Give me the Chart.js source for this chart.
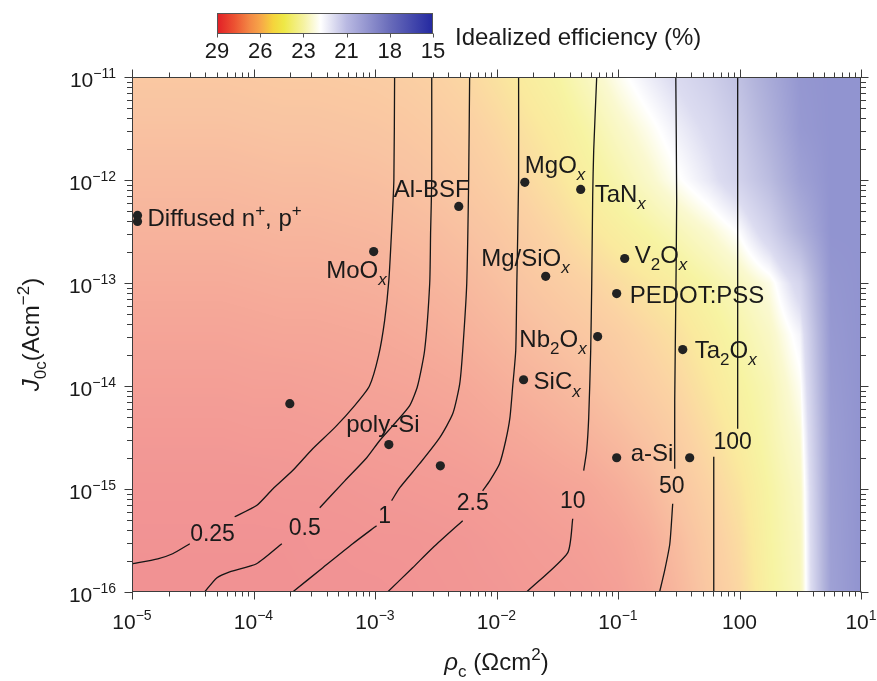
<!DOCTYPE html>
<html>
<head>
<meta charset="utf-8">
<title>Idealized efficiency map</title>
<script src="https://cdn.jsdelivr.net/npm/chart.js@4.4.0/dist/chart.umd.min.js"></script>
<style>
  html, body { margin: 0; padding: 0; background: #fff; }
  #wrap { width: 877px; height: 681px; }
</style>
</head>
<body>
<div id="wrap"><canvas id="chart" width="877" height="681"></canvas></div>
<script>
// ---- data ----
const xTicks = [1e-5, 1e-4, 1e-3, 1e-2, 1e-1, 1, 10];
const xTickLabels = ['10{^−5}', '10{^−4}', '10{^−3}', '10{^−2}', '10{^−1}', '100', '10{^1}'];
const yTicks = [1e-16, 1e-15, 1e-14, 1e-13, 1e-12, 1e-11];
const yTickLabels = ['10{^−16}', '10{^−15}', '10{^−14}', '10{^−13}', '10{^−12}', '10{^−11}'];
const cbarTicks = [29, 26, 23, 21, 18, 15];

// contact resistivity (Ohm cm2) and recombination J0c (A cm-2) of each contact
const rhoC = [1.11e-5, 1.11e-5, 9.75e-4, 4.89e-3, 1.71e-2, 4.93e-2, 2.54e-2, 0.1135, 9.75e-2, 6.8e-2, 1.67e-2, 0.341, 9.75e-2, 0.389, 1.99e-4, 1.30e-3, 3.45e-3];
const j0c = [4.53e-13, 3.96e-13, 2.02e-13, 5.54e-13, 9.5e-13, 8.1e-13, 1.16e-13, 1.73e-13, 7.9e-14, 3.02e-14, 1.15e-14, 2.26e-14, 2.01e-15, 2.01e-15, 6.74e-15, 2.70e-15, 1.68e-15];
const materials = ['Diffused n{^+}, p{^+}', '', 'MoO{_/x}', 'Al-BSF', 'MgO{_/x}', 'TaN{_/x}', 'Mg/SiO{_/x}', 'V{_2}O{_/x}', 'PEDOT:PSS', 'Nb{_2}O{_/x}', 'SiC{_/x}', 'Ta{_2}O{_/x}', 'a-Si', '', '', 'poly-Si', ''];

// contour lines [rho, J0c]; null = break for the inline label
const contourLevels = ['0.25', '0.5', '1', '2.5', '10', '50', '100'];
const contour025 = [[1.45e-3, 1e-11], [1.43e-3, 1e-12], [1.37e-3, 3.24e-13], [1.30e-3, 1.06e-13], [1.20e-3, 4.32e-14], [1.07e-3, 1.97e-14], [9.0e-4, 1.0e-14], [6.8e-4, 6.45e-15], [4.66e-4, 3.94e-15], [3.07e-4, 2.46e-15], [2.10e-4, 1.51e-15], [1.44e-4, 1.0e-15], [1.06e-4, 6.9e-16], [7.0e-5, 5.38e-16], null, [2.99e-5, 2.94e-16], [2.16e-5, 2.35e-16], [1.63e-5, 2.10e-16], [1e-5, 1.88e-16]];
const contour05 = [[2.93e-3, 1e-11], [2.93e-3, 1e-12], [2.87e-3, 3.24e-13], [2.82e-3, 9.9e-14], [2.56e-3, 2.21e-14], [2.24e-3, 1.0e-14], [1.93e-3, 6.45e-15], [1.40e-3, 4.12e-15], [1.09e-3, 2.94e-15], [8.55e-4, 2.01e-15], [5.64e-4, 1.2e-15], [3.51e-4, 6.58e-16], null, [1.71e-4, 2.94e-16], [1.06e-4, 1.88e-16], [6.37e-5, 1.57e-16], [4.98e-5, 1.37e-16], [3.96e-5, 1e-16]];
const contour1 = [[6.01e-3, 1e-11], [5.90e-3, 1e-12], [5.69e-3, 9.9e-14], [5.27e-3, 2.21e-14], [4.98e-3, 1.05e-14], [4.37e-3, 5.4e-15], [3.41e-3, 3.15e-15], [2.33e-3, 1.76e-15], [1.60e-3, 1.03e-15], [1.37e-3, 7.7e-16], null, [1.03e-3, 4.4e-16], [6.55e-4, 2.94e-16], [3.72e-4, 1.72e-16], [2.10e-4, 1e-16]];
const contour25 = [[1.52e-2, 1e-11], [1.52e-2, 1e-12], [1.47e-2, 9.9e-14], [1.44e-2, 2.21e-14], [1.36e-2, 1.0e-14], [1.29e-2, 4.93e-15], [1.19e-2, 2.94e-15], [1.06e-2, 1.76e-15], [8.79e-3, 1.2e-15], [7.69e-3, 9.6e-16], null, [5.27e-3, 4.92e-16], [2.99e-3, 2.69e-16], [2.04e-3, 1.72e-16], [1.27e-3, 1e-16]];
const contour10 = [[6.68e-2, 1e-11], [6.31e-2, 1.94e-12], [6.19e-2, 6.93e-13], [6.08e-2, 9.9e-14], [5.96e-2, 2.21e-14], [5.74e-2, 4.93e-15], [5.52e-2, 2.36e-15], [5.22e-2, 1.51e-15], null, [4.24e-2, 5.14e-16], [3.85e-2, 2.40e-16], [1.77e-2, 1e-16]];
const contour50 = [[0.299, 1e-11], [0.304, 6.33e-13], [0.299, 6.76e-14], [0.293, 7.21e-15], [0.293, 1.57e-15], null, [0.282, 7.2e-16], [0.267, 2.94e-16], [0.242, 1.61e-16], [0.220, 1e-16]];
const contour100 = [[0.966, 1e-11], [0.966, 3.85e-15], null, [0.614, 2.06e-15], [0.614, 1e-16]];
const contourLabelRho = [4.6e-5, 2.64e-4, 1.2e-3, 6.37e-3, 4.24e-2, 0.277, 0.879];
const contourLabelJ = [3.68e-16, 4.21e-16, 5.5e-16, 7.36e-16, 7.7e-16, 1.08e-15, 2.88e-15];

// idealized efficiency (%) read on a grid: columns log10(rho), rows log10(J0c)
const gridLogRho = [-5, -4.75, -4.5, -4.25, -4, -3.75, -3.5, -3.25, -3, -2.75, -2.5, -2.25, -2, -1.75, -1.5, -1.25, -1, -0.75, -0.5, -0.25, 0, 0.25, 0.5, 0.75, 1];
const gridLogJ = [-11, -11.5, -12, -12.5, -13, -13.5, -14, -14.5, -15, -15.5, -16];
const efficiency = [
  [26.5, 26.5, 26.5, 26.5, 26.45, 26.4, 26.4, 26.35, 26.3, 26.2, 26.05, 25.8, 25.4, 24.9, 24.4, 23.5, 22.5, 21.6, 20.8, 20.0, 18.8, 17.0, 15.3, 15, 15],
  [26.8, 26.8, 26.8, 26.8, 26.75, 26.7, 26.7, 26.65, 26.6, 26.5, 26.35, 26.15, 25.8, 25.35, 24.9, 24.2, 23.3, 22.5, 21.6, 20.8, 19.5, 17.6, 15.5, 15, 15],
  [27.1, 27.1, 27.1, 27.1, 27.05, 27.0, 27.0, 26.95, 26.9, 26.8, 26.65, 26.45, 26.15, 25.75, 25.3, 24.7, 24.0, 23.2, 22.3, 21.4, 20.2, 18.5, 16.2, 15, 15],
  [27.4, 27.4, 27.4, 27.4, 27.35, 27.3, 27.3, 27.25, 27.2, 27.1, 27.0, 26.8, 26.55, 26.2, 25.8, 25.3, 24.8, 24.3, 23.7, 23.0, 22.1, 20.2, 17.6, 15, 15],
  [27.7, 27.7, 27.7, 27.7, 27.65, 27.6, 27.6, 27.55, 27.5, 27.4, 27.3, 27.15, 26.9, 26.6, 26.3, 26.0, 25.6, 25.2, 24.8, 24.2, 23.5, 22.6, 20.4, 15.3, 15],
  [28.0, 28.0, 28.0, 28.0, 27.95, 27.9, 27.9, 27.85, 27.8, 27.7, 27.6, 27.45, 27.25, 27.0, 26.75, 26.5, 26.2, 25.8, 25.4, 24.8, 24.1, 23.3, 21.8, 15.5, 15],
  [28.25, 28.25, 28.25, 28.25, 28.2, 28.2, 28.15, 28.1, 28.05, 28.0, 27.9, 27.8, 27.6, 27.4, 27.2, 26.95, 26.6, 26.2, 25.8, 25.2, 24.5, 23.8, 22.4, 15.7, 15],
  [28.5, 28.5, 28.5, 28.5, 28.45, 28.45, 28.4, 28.35, 28.3, 28.25, 28.2, 28.1, 27.95, 27.8, 27.6, 27.4, 27.1, 26.7, 26.2, 25.6, 24.9, 24.0, 22.9, 15.9, 15],
  [28.7, 28.7, 28.7, 28.7, 28.7, 28.65, 28.65, 28.6, 28.55, 28.5, 28.45, 28.4, 28.3, 28.2, 28.05, 27.9, 27.6, 27.2, 26.6, 26.0, 25.3, 24.3, 23.3, 16.0, 15],
  [28.8, 28.8, 28.8, 28.8, 28.8, 28.8, 28.75, 28.75, 28.7, 28.7, 28.65, 28.6, 28.5, 28.4, 28.3, 28.2, 28.0, 27.6, 27.0, 26.3, 25.6, 24.4, 23.5, 16.1, 15],
  [28.85, 28.85, 28.85, 28.85, 28.85, 28.85, 28.8, 28.8, 28.8, 28.75, 28.7, 28.65, 28.6, 28.5, 28.45, 28.35, 28.2, 27.8, 27.2, 26.5, 25.8, 24.5, 23.6, 16.2, 15]
];

// ---- styling ----
const FONT = '"Liberation Sans", Arial, Helvetica, sans-serif';
const colorStops = [
  [0.00, 226, 30, 38], [0.08, 236, 82, 50], [0.15, 243, 135, 68], [0.20, 247, 165, 72],
  [0.26, 245, 212, 60], [0.31, 238, 232, 70], [0.40, 245, 242, 160], [0.48, 255, 255, 255],
  [0.60, 185, 185, 226], [0.80, 105, 108, 186], [1.00, 35, 40, 160]
];
const mapAlpha = 0.5;
// label offset from its dot in px: [dx, dy, align]
const labelPlacement = [[10, 2, 'left'], null, [13, 18, 'right'], [11, -18, 'right'], [0, -18, 'left'], [14, 4, 'left'], [24, -19, 'right'], [10, -4, 'left'], [13, 1, 'left'], [-11, 2, 'right'], [10, 1, 'left'], [12, 0, 'left'], [14, -5, 'left'], null, null, [-6, -21, 'center'], null];

function colorAt(t) {
  for (let k = 0; k < colorStops.length - 1; k++) {
    const a = colorStops[k], b = colorStops[k + 1];
    if (t <= b[0]) {
      const f = (t - a[0]) / (b[0] - a[0]);
      return [a[1] + (b[1] - a[1]) * f, a[2] + (b[2] - a[2]) * f, a[3] + (b[3] - a[3]) * f];
    }
  }
  const l = colorStops[colorStops.length - 1];
  return [l[1], l[2], l[3]];
}

function effToT(e) {
  const n = cbarTicks.length - 1;
  if (e >= cbarTicks[0]) return 0;
  if (e <= cbarTicks[n]) return 1;
  for (let k = 0; k < n; k++) {
    if (e <= cbarTicks[k] && e >= cbarTicks[k + 1]) {
      return (k + (cbarTicks[k] - e) / (cbarTicks[k] - cbarTicks[k + 1])) / n;
    }
  }
  return 1;
}

function fracIndex(arr, v) {
  const n = arr.length;
  const asc = arr[n - 1] > arr[0];
  if (asc ? v <= arr[0] : v >= arr[0]) return 0;
  if (asc ? v >= arr[n - 1] : v <= arr[n - 1]) return n - 1;
  for (let k = 0; k < n - 1; k++) {
    const a = arr[k], b = arr[k + 1];
    if ((v - a) * (v - b) <= 0) return k + (v - a) / (b - a);
  }
  return n - 1;
}

function richSegs(s) {
  const out = [];
  const re = /\{([_^\/]+)([^}]*)\}/g;
  let last = 0, m;
  while ((m = re.exec(s)) !== null) {
    if (m.index > last) out.push({ t: s.slice(last, m.index), f: '' });
    out.push({ t: m[2], f: m[1] });
    last = re.lastIndex;
  }
  if (last < s.length) out.push({ t: s.slice(last), f: '' });
  return out;
}

function drawRich(ctx, s, x, y, size, align, opts) {
  const o = opts || {};
  const sc = o.scale || 0.7;
  const segs = richSegs(s);
  let w = 0;
  segs.forEach(seg => {
    const sub = seg.f.includes('_'), sup = seg.f.includes('^');
    seg.font = (seg.f.includes('/') ? 'italic ' : '') + ((sub || sup) ? Math.round(size * sc) : size) + 'px ' + FONT;
    seg.dy = sub ? size * (o.drop || 0.3) : sup ? -size * (o.rise || 0.42) : 0;
    ctx.font = seg.font;
    seg.w = ctx.measureText(seg.t).width;
    w += seg.w;
  });
  let cx = align === 'right' ? x - w : align === 'center' ? x - w / 2 : x;
  const base = y + size * 0.36;
  ctx.textAlign = 'left';
  ctx.textBaseline = 'alphabetic';
  segs.forEach(seg => {
    ctx.font = seg.font;
    ctx.fillText(seg.t, cx, base + seg.dy);
    cx += seg.w;
  });
}

function minorValues(min, max) {
  const out = [];
  for (let d = Math.floor(Math.log10(min)); d < Math.ceil(Math.log10(max)); d++) {
    for (let m = 2; m <= 9; m++) {
      const v = m * Math.pow(10, d);
      if (v > min && v < max) out.push(v);
    }
  }
  return out;
}

const backgroundPlugin = {
  id: 'background',
  beforeDraw(chart) {
    const ctx = chart.ctx;
    ctx.save();
    ctx.fillStyle = '#fff';
    ctx.fillRect(0, 0, chart.width, chart.height);
    ctx.restore();
  }
};

const heatmapPlugin = {
  id: 'heatmap',
  beforeDatasetsDraw(chart) {
    const { ctx, chartArea: a, scales: { x, y } } = chart;
    const x0 = Math.round(a.left), y0 = Math.round(a.top);
    const w = Math.round(a.right) - x0, h = Math.round(a.bottom) - y0;
    const img = ctx.createImageData(w, h);
    const gx = new Float32Array(w), gy = new Float32Array(h);
    for (let i = 0; i < w; i++) gx[i] = fracIndex(gridLogRho, Math.log10(x.getValueForPixel(x0 + i + 0.5)));
    for (let j = 0; j < h; j++) gy[j] = fracIndex(gridLogJ, Math.log10(y.getValueForPixel(y0 + j + 0.5)));
    const lut = [];
    for (let k = 0; k <= 1000; k++) {
      const c = colorAt(k / 1000);
      lut.push(c.map(v => Math.round(v * mapAlpha + 255 * (1 - mapAlpha))));
    }
    const nc = gridLogRho.length, nr = gridLogJ.length;
    for (let j = 0; j < h; j++) {
      const r0 = Math.min(Math.floor(gy[j]), nr - 2), fr = gy[j] - r0;
      const rowA = efficiency[r0], rowB = efficiency[r0 + 1];
      for (let i = 0; i < w; i++) {
        const c0 = Math.min(Math.floor(gx[i]), nc - 2), fc = gx[i] - c0;
        const top = rowA[c0] + (rowA[c0 + 1] - rowA[c0]) * fc;
        const bot = rowB[c0] + (rowB[c0 + 1] - rowB[c0]) * fc;
        const e = top + (bot - top) * fr;
        const col = lut[Math.round(effToT(e) * 1000)];
        const p = (j * w + i) * 4;
        img.data[p] = col[0];
        img.data[p + 1] = col[1];
        img.data[p + 2] = col[2];
        img.data[p + 3] = 255;
      }
    }
    ctx.putImageData(img, x0, y0);
  }
};

const labelsPlugin = {
  id: 'labels',
  afterDatasetsDraw(chart) {
    const { ctx, scales: { x, y } } = chart;
    ctx.save();
    ctx.fillStyle = '#1a1a1a';
    materials.forEach((name, i) => {
      const pl = labelPlacement[i];
      if (!name || !pl) return;
      const px = x.getPixelForValue(rhoC[i]), py = y.getPixelForValue(j0c[i]);
      drawRich(ctx, name, px + pl[0], py + pl[1], 24, pl[2], { scale: 0.7, drop: 0.3, rise: 0.4 });
    });
    ctx.font = '23px ' + FONT;
    ctx.textAlign = 'center';
    ctx.textBaseline = 'middle';
    contourLevels.forEach((lv, i) => {
      ctx.fillText(lv, x.getPixelForValue(contourLabelRho[i]), y.getPixelForValue(contourLabelJ[i]) + 1);
    });
    ctx.restore();
  }
};

const axesPlugin = {
  id: 'axesFrame',
  afterDraw(chart) {
    const { ctx, chartArea: a, scales: { x, y } } = chart;
    ctx.save();
    ctx.strokeStyle = '#3c3c3c';
    ctx.lineWidth = 1;
    const L = a.left + 0.5, R = a.right - 0.5, T = a.top + 0.5, B = a.bottom - 0.5;
    ctx.strokeRect(L, T, R - L, B - T);
    ctx.beginPath();
    const tickX = (v, len) => {
      const p = Math.round(x.getPixelForValue(v)) + 0.5;
      ctx.moveTo(p, B); ctx.lineTo(p, B + len);
      ctx.moveTo(p, T); ctx.lineTo(p, T - len);
    };
    const tickY = (v, len) => {
      const p = Math.round(y.getPixelForValue(v)) + 0.5;
      ctx.moveTo(L, p); ctx.lineTo(L - len, p);
      ctx.moveTo(R, p); ctx.lineTo(R + len, p);
    };
    xTicks.forEach(v => tickX(v, 8));
    minorValues(x.min, x.max).forEach(v => tickX(v, 5));
    yTicks.forEach(v => tickY(v, 8));
    minorValues(y.min, y.max).forEach(v => tickY(v, 5.5));
    ctx.stroke();

    ctx.fillStyle = '#1a1a1a';
    xTicks.forEach((v, i) => {
      drawRich(ctx, xTickLabels[i], x.getPixelForValue(v), a.bottom + 29, 21, 'center', { scale: 0.66, rise: 0.42 });
    });
    yTicks.forEach((v, i) => {
      drawRich(ctx, yTickLabels[i], a.left - 16, y.getPixelForValue(v) + 2, 21, 'right', { scale: 0.66, rise: 0.42 });
    });

    // axis titles
    drawRich(ctx, '{/ρ}{_c} (Ωcm{^2})', (a.left + a.right) / 2, 661, 24, 'center', { scale: 0.7, drop: 0.3, rise: 0.4 });
    ctx.save();
    ctx.translate(30, (a.top + a.bottom) / 2);
    ctx.rotate(-Math.PI / 2);
    drawRich(ctx, '{/J}{_0c}(Acm{^−2})', 0, 0, 24, 'center', { scale: 0.7, drop: 0.3, rise: 0.4 });
    ctx.restore();

    // colour bar
    const cx0 = 217, cx1 = 433, cy0 = 13.5, cy1 = 33.5;
    const grad = ctx.createLinearGradient(cx0, 0, cx1, 0);
    colorStops.forEach(s => grad.addColorStop(s[0], 'rgb(' + s[1] + ',' + s[2] + ',' + s[3] + ')'));
    ctx.fillStyle = grad;
    ctx.fillRect(cx0, cy0, cx1 - cx0, cy1 - cy0);
    ctx.strokeStyle = '#555';
    ctx.strokeRect(cx0 + 0.5, cy0, cx1 - cx0 - 1, cy1 - cy0);
    ctx.beginPath();
    cbarTicks.forEach((v, i) => {
      const p = Math.round(cx0 + (cx1 - cx0) * i / (cbarTicks.length - 1)) + 0.5;
      ctx.moveTo(p, cy1); ctx.lineTo(p, cy1 + 4);
    });
    ctx.stroke();
    ctx.fillStyle = '#1a1a1a';
    ctx.font = '22px ' + FONT;
    ctx.textAlign = 'center';
    ctx.textBaseline = 'middle';
    cbarTicks.forEach((v, i) => {
      ctx.fillText(String(v), cx0 + (cx1 - cx0) * i / (cbarTicks.length - 1), 52);
    });
    ctx.font = '24px ' + FONT;
    ctx.textAlign = 'left';
    ctx.fillText('Idealized efficiency (%)', 455, 38);
    ctx.restore();
  }
};

const contourSets = [contour025, contour05, contour1, contour25, contour10, contour50, contour100];
const datasets = contourSets.map((pts, i) => ({
  type: 'line',
  label: contourLevels[i],
  data: pts.map((p, k) => p ? { x: p[0], y: p[1] } : { x: pts[k - 1][0], y: null }),
  borderColor: '#151515',
  borderWidth: 1.3,
  pointRadius: 0,
  tension: 0.2,
  spanGaps: false,
  order: 2
}));
datasets.push({
  type: 'scatter',
  label: 'Contacts',
  data: rhoC.map((r, i) => ({ x: r, y: j0c[i] })),
  pointRadius: 4.6,
  pointHoverRadius: 4.6,
  backgroundColor: '#222',
  borderWidth: 0,
  order: 1
});

new Chart(document.getElementById('chart').getContext('2d'), {
  type: 'scatter',
  data: { datasets: datasets },
  options: {
    responsive: false,
    animation: false,
    layout: { padding: { left: 132, right: 16, top: 77, bottom: 89 } },
    plugins: { legend: { display: false }, tooltip: { enabled: false } },
    scales: {
      x: { type: 'logarithmic', min: 1e-5, max: 10, display: false },
      y: { type: 'logarithmic', min: 1e-16, max: 1e-11, display: false }
    }
  },
  plugins: [backgroundPlugin, heatmapPlugin, labelsPlugin, axesPlugin]
});
</script>
</body>
</html>
